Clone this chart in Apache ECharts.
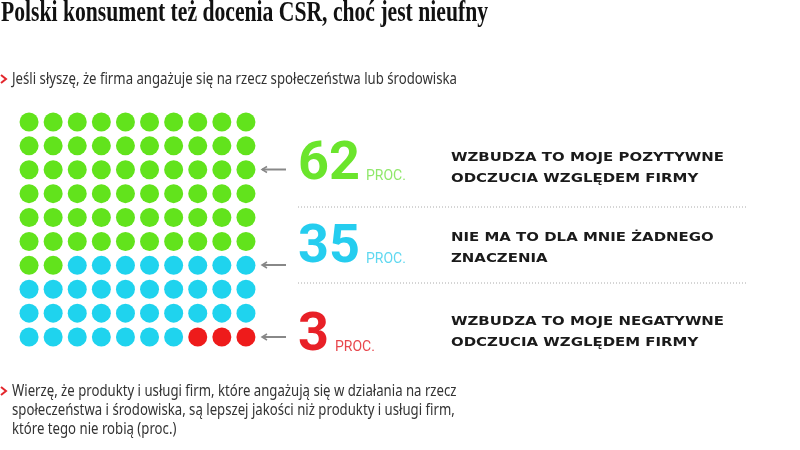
<!DOCTYPE html>
<html><head><meta charset="utf-8">
<script src="https://cdn.jsdelivr.net/npm/echarts@6/dist/echarts.min.js"></script>
<style>html,body{margin:0;padding:0;background:#fff}#c{width:800px;height:450px}</style>
</head><body><div id="c"></div>
<script>
// ---- data ----
const titleText = 'Polski konsument też docenia CSR, choć jest nieufny';
const question1 = 'Jeśli słyszę, że firma angażuje się na rzecz społeczeństwa lub środowiska';
const shares = [62, 35, 3];
const shareUnit = 'PROC.';
const answerLines = [
  ['WZBUDZA TO MOJE POZYTYWNE', 'ODCZUCIA WZGLĘDEM FIRMY'],
  ['NIE MA TO DLA MNIE ŻADNEGO', 'ZNACZENIA'],
  ['WZBUDZA TO MOJE NEGATYWNE', 'ODCZUCIA WZGLĘDEM FIRMY']
];
const question2Lines = [
  'Wierzę, że produkty i usługi firm, które angażują się w działania na rzecz',
  'społeczeństwa i środowiska, są lepszej jakości niż produkty i usługi firm,',
  'które tego nie robią (proc.)'
];
const gridCols = 10;

// ---- styles / layout ----
const dotColors = ['#62e31c', '#1fd3ee', '#ee1b1b'];
const numColors = ['#6be52c', '#25cdef', '#e82027'];
const unitColors = ['#8fe86a', '#5fd8f0', '#e8474d'];
const numLayout = [ // cap centre y, arrow y, label first line y
  {cy: 162.5, ay: 169.5, ly: 158},
  {cy: 245, ay: 265, ly: 238},
  {cy: 333, ay: 337, ly: 322}
];

const ctx = document.createElement('canvas').getContext('2d');
function measure(text, font) { ctx.font = font; return ctx.measureText(text).width; }

const titleFont = 'bold 30px "Liberation Serif"';
const titleScale = 487 / measure(titleText, titleFont);
const bodyFont = '17px "Noto Sans"';
const bodyScale = 445 / measure(question1, bodyFont);
const labelFont = 'bold 13px "DejaVu Sans"';
const labelScale = 273 / measure(answerLines[0][0], labelFont);
const numFont = 'bold 54px Roboto';

// ---- build waffle cells from shares ----
const cellData = shares.map(() => []);
let idx = 0;
shares.forEach((v, s) => {
  for (let i = 0; i < v; i++) {
    cellData[s].push([idx % gridCols, Math.floor(idx / gridCols)]);
    idx++;
  }
});

const graphics = [];
function txt(text, x, y, font, size, weight, color, scaleX, opts) {
  graphics.push(Object.assign({
    type: 'text', x: x, y: y, scaleX: scaleX || 1, silent: true,
    style: {text: text, fontFamily: font, fontSize: size, fontWeight: weight, fill: color,
            align: 'left', verticalAlign: 'middle'}
  }, opts || {}));
}
// title
txt(titleText, 1, 13, 'Liberation Serif', 30, 'bold', '#111', titleScale);
// question 1
graphics.push({type: 'polyline', silent: true, shape: {points: [[1, 75], [6, 79], [1, 83]]},
  style: {stroke: '#e3262c', lineWidth: 2, fill: null}});
txt(question1, 12, 79, 'Noto Sans', 17, 'normal', '#333', bodyScale);
// answers
shares.forEach((v, s) => {
  const L = numLayout[s];
  // arrow
  graphics.push({type: 'line', silent: true, shape: {x1: 262, y1: L.ay, x2: 286, y2: L.ay},
    style: {stroke: '#888', lineWidth: 2}});
  graphics.push({type: 'polyline', silent: true, shape: {points: [[267, L.ay - 3], [262, L.ay], [267, L.ay + 3]]},
    style: {stroke: '#888', lineWidth: 1.5, fill: null}});
  const numStr = String(v);
  const numW = measure(numStr, numFont);
  txt(numStr, 298, L.cy + 3, 'Roboto', 54, 'bold', numColors[s], 1);
  txt(shareUnit, 298 + numW + 6, L.cy + 14, 'Roboto', 14, 'normal', unitColors[s], 1);
  answerLines[s].forEach((line, k) => {
    txt(line, 451, L.ly + k * 21, 'DejaVu Sans', 13, 'bold', '#1a1a1a', labelScale);
  });
});
// dotted separators
[207, 283].forEach(y => graphics.push({type: 'line', silent: true,
  shape: {x1: 298, y1: y, x2: 748, y2: y},
  style: {stroke: '#aaa', lineWidth: 1, lineDash: [1, 2]}}));
// question 2
graphics.push({type: 'polyline', silent: true, shape: {points: [[1, 387], [6, 391], [1, 395]]},
  style: {stroke: '#e3262c', lineWidth: 2, fill: null}});
question2Lines.forEach((line, k) => txt(line, 12, 391 + k * 19, 'Noto Sans', 17, 'normal', '#333', bodyScale));

const chart = echarts.init(document.getElementById('c'));
chart.setOption({
  animation: false,
  backgroundColor: '#fff',
  grid: {left: 17, top: 110, width: 241, height: 239},
  xAxis: {type: 'value', min: -0.5, max: 9.5, show: false},
  yAxis: {type: 'value', min: -0.5, max: 9.5, inverse: true, show: false},
  series: shares.map((v, s) => ({
    type: 'scatter', name: answerLines[s].join(' '), data: cellData[s],
    symbol: 'circle', symbolSize: 19, itemStyle: {color: dotColors[s], opacity: 1},
    silent: true
  })),
  graphic: graphics
});
</script></body></html>
